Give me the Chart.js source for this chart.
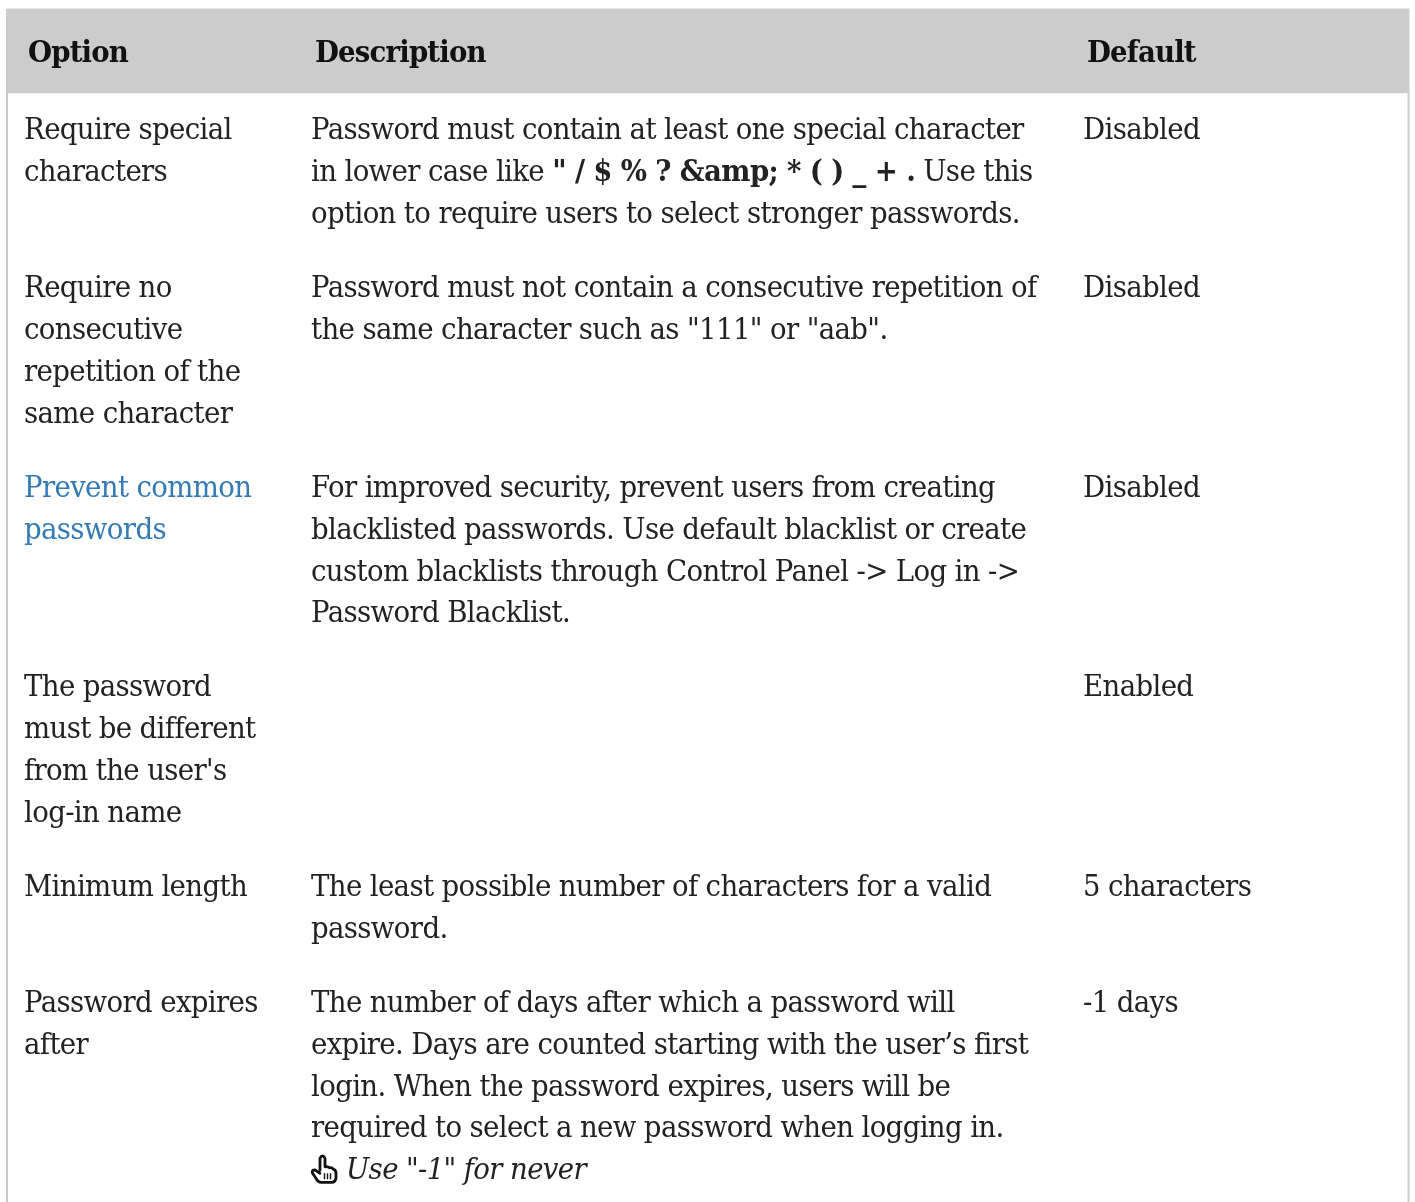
<!DOCTYPE html>
<html>
<head>
<meta charset="utf-8">
<title>Password options</title>
<script src="https://cdn.jsdelivr.net/npm/chart.js@4/dist/chart.umd.min.js"></script>
<style>
    html, body { margin: 0; padding: 0; background: #fff; overflow: hidden; }
    canvas { display: block; }
</style>
</head>
<body>
<canvas id="tabel" width="1415" height="1202"></canvas>
<script>
const columns = ["Option", "Description", "Default"];

const optionCells = [
    ["Require special", "characters"],
    ["Require no", "consecutive", "repetition of the", "same character"],
    ["Prevent common", "passwords"],
    ["The password", "must be different", "from the user's", "log-in name"],
    ["Minimum length"],
    ["Password expires", "after"]
];

const descriptionCells = [
    ["Password must contain at least one special character",
     "in lower case like \" / $ % ? &amp; * ( ) _ + . Use this",
     "option to require users to select stronger passwords."],
    ["Password must not contain a consecutive repetition of",
     "the same character such as \"111\" or \"aab\"."],
    ["For improved security, prevent users from creating",
     "blacklisted passwords. Use default blacklist or create",
     "custom blacklists through Control Panel -> Log in ->",
     "Password Blacklist."],
    [],
    ["The least possible number of characters for a valid",
     "password."],
    ["The number of days after which a password will",
     "expire. Days are counted starting with the user’s first",
     "login. When the password expires, users will be",
     "required to select a new password when logging in.",
     "Use \"-1\" for never"]
];

const defaultCells = ["Disabled", "Disabled", "Disabled", "Enabled", "5 characters", "-1 days"];

// potongan teks yang formatnya beda
const boldText = "\" / $ % ? &amp; * ( ) _ + .";
const linkLines = ["Prevent common", "passwords"];
const noteLine = "Use \"-1\" for never";

const SERIF = "'DejaVu Serif', serif";
const FONT_SIZE = 30;
const X_SCALE = 0.92; // teks di gambar asli lebih sempit daripada tingginya
const TRACKING = "-0.7px";
const HEADER_TRACKING = "-0.9px";
const LINE = 41.9;
const ROW_GAP = 32;
const FIRST_BASELINE = 139.4;
const HEADER_BASELINE = 61.5;
const HEADER_X = [28, 315, 1087];
const CELL_X = [24, 311, 1083];
const INK = "#222";
const LINK = "#337ab7";
const BORDER = "#ccc";

function put(ctx, text, x, y, tracking = TRACKING) {
    ctx.save();
    ctx.letterSpacing = tracking;
    ctx.translate(x, y);
    ctx.scale(X_SCALE, 1);
    ctx.fillText(text, 0, 0);
    const w = ctx.measureText(text).width * X_SCALE;
    ctx.restore();
    return w;
}

// ikon tangan di depan catatan
function drawHand(ctx, x, y) {
    ctx.save();
    ctx.translate(x, y);
    ctx.strokeStyle = "#111";
    ctx.lineJoin = "round";
    ctx.lineCap = "round";
    ctx.lineWidth = 2.8;
    ctx.beginPath();
    ctx.moveTo(9, -9);
    ctx.lineTo(9, -21);
    ctx.quadraticCurveTo(11.5, -26, 14, -21);
    ctx.lineTo(14, -12.5);
    ctx.quadraticCurveTo(17, -13, 18.5, -11.5);
    ctx.quadraticCurveTo(21, -12, 22.5, -10);
    ctx.quadraticCurveTo(25, -9.5, 25, -6);
    ctx.lineTo(25, -1);
    ctx.quadraticCurveTo(24, 3, 21, 3);
    ctx.lineTo(10, 3);
    ctx.quadraticCurveTo(7, 3, 5, -1);
    ctx.lineTo(1.5, -6);
    ctx.quadraticCurveTo(0.5, -9.5, 4, -9.5);
    ctx.lineTo(9, -6);
    ctx.stroke();
    ctx.lineWidth = 1.4;
    ctx.lineCap = "butt";
    [13.5, 16.5, 19.5].forEach((sx) => {
        ctx.beginPath();
        ctx.moveTo(sx, -6);
        ctx.lineTo(sx, 0);
        ctx.stroke();
    });
    ctx.restore();
}

function drawLine(ctx, text, x, y) {
    ctx.fillStyle = linkLines.includes(text) ? LINK : INK;
    ctx.font = `${FONT_SIZE}px ${SERIF}`;

    if (text === noteLine) {
        drawHand(ctx, x, y);
        ctx.font = `italic ${FONT_SIZE}px ${SERIF}`;
        put(ctx, text, x + 35, y);
        return;
    }

    const i = text.indexOf(boldText);
    if (i < 0) {
        put(ctx, text, x, y);
        return;
    }

    x += put(ctx, text.slice(0, i), x, y);
    ctx.font = `bold ${FONT_SIZE}px ${SERIF}`;
    x += put(ctx, boldText, x, y);
    ctx.font = `${FONT_SIZE}px ${SERIF}`;
    put(ctx, text.slice(i + boldText.length), x, y);
}

const tablePlugin = {
    id: "tablePlugin",
    afterDatasetsDraw(chart) {
        const { ctx, chartArea, scales } = chart;
        const yPos = (v) => scales.y.getPixelForValue(v);

        ctx.save();

        // garis tepi kiri dan kanan
        ctx.fillStyle = BORDER;
        ctx.fillRect(chartArea.left, yPos(93), 2, chartArea.bottom - yPos(93));
        ctx.fillRect(chartArea.right - 2, yPos(93), 2, chartArea.bottom - yPos(93));
        ctx.fillStyle = "#ececec";
        ctx.fillRect(chartArea.left, yPos(8), chartArea.width, 1);

        ctx.textBaseline = "alphabetic";
        ctx.textAlign = "left";

        ctx.fillStyle = "#111";
        ctx.font = `bold ${FONT_SIZE}px ${SERIF}`;
        columns.forEach((name, c) => put(ctx, name, HEADER_X[c], yPos(HEADER_BASELINE), HEADER_TRACKING));

        let baseline = FIRST_BASELINE;
        optionCells.forEach((option, r) => {
            const desc = descriptionCells[r];
            option.forEach((t, l) => drawLine(ctx, t, CELL_X[0], yPos(baseline + l * LINE)));
            desc.forEach((t, l) => drawLine(ctx, t, CELL_X[1], yPos(baseline + l * LINE)));
            drawLine(ctx, defaultCells[r], CELL_X[2], yPos(baseline));
            baseline += Math.max(option.length, desc.length, 1) * LINE + ROW_GAP;
        });

        ctx.restore();
    }
};

new Chart(document.getElementById("tabel"), {
    type: "bar",
    data: {
        labels: ["header"],
        datasets: [{
            data: [[9, 93]],
            backgroundColor: BORDER,
            borderWidth: 0,
            barPercentage: 1,
            categoryPercentage: 1
        }]
    },
    plugins: [tablePlugin],
    options: {
        responsive: false,
        animation: false,
        layout: { padding: { left: 6, right: 5.5, top: 0, bottom: 0 } },
        plugins: { legend: { display: false }, tooltip: { enabled: false }, title: { display: false } },
        scales: {
            x: { display: false },
            y: { display: false, reverse: true, min: 0, max: 1202 }
        }
    }
});
</script>
</body>
</html>
